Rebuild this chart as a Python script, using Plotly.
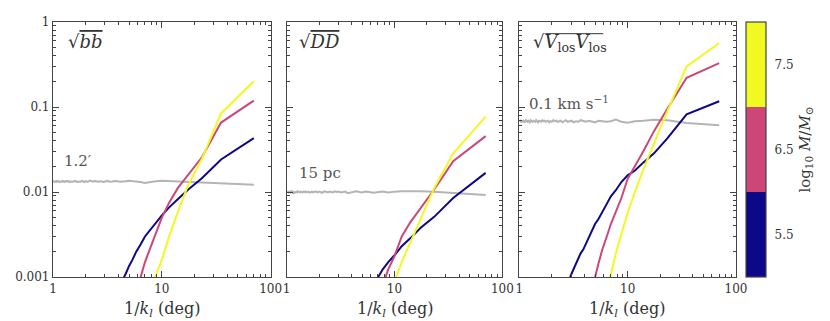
import plotly.graph_objects as go

# 1/k_l (deg) sampling, k_l = n/70
scale_deg = [70.0, 35.0, 23.33, 17.5, 14.0, 11.67, 10.0, 8.75, 7.78, 7.0,
             6.36, 5.83, 5.38, 5.0, 4.67, 4.38, 4.12, 3.89, 3.68, 3.5,
             3.33, 3.18, 3.04, 2.92, 2.8, 2.69, 2.59, 2.5, 2.41, 2.33,
             2.26, 2.19, 2.12, 2.06, 2.0, 1.94, 1.89, 1.84, 1.79, 1.75,
             1.71, 1.67, 1.63, 1.59, 1.56, 1.52, 1.49, 1.46, 1.43, 1.4,
             1.37, 1.35, 1.32, 1.3, 1.27, 1.25, 1.23, 1.21, 1.19, 1.17,
             1.15, 1.13, 1.11, 1.09, 1.08, 1.06, 1.04, 1.03, 1.01, 1.0]

# ---- panel 1: sqrt(bb)
bb_noise = [0.0122, 0.0127, 0.0131, 0.0134, 0.0136, 0.0137, 0.0136, 0.0134, 0.0130, 0.0128,
            0.0131, 0.0133, 0.0134, 0.0136, 0.0134, 0.0133, 0.0132, 0.0134, 0.0135, 0.0133,
            0.0132, 0.0135, 0.0133, 0.0131, 0.0133, 0.0134, 0.0132, 0.0133, 0.0135, 0.0132,
            0.0133, 0.0136, 0.0133, 0.0132, 0.0134, 0.0131, 0.0133, 0.0135, 0.0132, 0.0134,
            0.0133, 0.0131, 0.0134, 0.0133, 0.0135, 0.0132, 0.0134, 0.0133, 0.0131, 0.0134,
            0.0132, 0.0135, 0.0133, 0.0134, 0.0131, 0.0133, 0.0135, 0.0132, 0.0134, 0.0133,
            0.0131, 0.0134, 0.0133, 0.0135, 0.0132, 0.0134, 0.0131, 0.0133, 0.0134, 0.0132]
bb_m55 = [0.043, 0.0241, 0.0145, 0.0107, 0.0082, 0.0066, 0.0053, 0.0043, 0.0035, 0.0030,
          0.0024, 0.0020, 0.0016, 0.00135, 0.0011, 0.00095, 0.0008]
bb_m65 = [0.119, 0.0656, 0.0256, 0.0158, 0.0111, 0.0075, 0.0050, 0.0032, 0.0021, 0.0015,
          0.00098, 0.0007]
bb_m75 = [0.201, 0.084, 0.0245, 0.0122, 0.0058, 0.0030, 0.0016, 0.00102, 0.0006]

# ---- panel 2: sqrt(DD)
dd_noise = [0.0092, 0.0098, 0.0101, 0.0102, 0.0103, 0.0102, 0.0101, 0.0099, 0.0101, 0.0100,
            0.0098, 0.0100, 0.0101, 0.0099, 0.0100, 0.0102, 0.0100, 0.0098, 0.0097, 0.0101,
            0.0100, 0.0099, 0.0101, 0.0100, 0.0102, 0.0099, 0.0100, 0.0101, 0.0099, 0.0100,
            0.0102, 0.0100, 0.0098, 0.0100, 0.0101, 0.0099, 0.0100, 0.0102, 0.0100, 0.0099,
            0.0101, 0.0100, 0.0098, 0.0101, 0.0100, 0.0099, 0.0102, 0.0100, 0.0101, 0.0099,
            0.0100, 0.0101, 0.0099, 0.0100, 0.0102, 0.0099, 0.0101, 0.0100, 0.0098, 0.0100,
            0.0096, 0.0100, 0.0102, 0.0099, 0.0101, 0.0100, 0.0099, 0.0101, 0.0100, 0.0100]
dd_m55 = [0.0168, 0.0085, 0.0051, 0.0038, 0.00285, 0.0023, 0.0018, 0.0015, 0.00123, 0.0010,
          0.0008]
dd_m65 = [0.0454, 0.0231, 0.0107, 0.0065, 0.0044, 0.0030, 0.00176, 0.00123, 0.0008]
dd_m75 = [0.0769, 0.0285, 0.0111, 0.0048, 0.0026, 0.0015, 0.0009]

# ---- panel 3: sqrt(Vlos Vlos)
vv_noise = [0.061, 0.065, 0.070, 0.071, 0.069, 0.068, 0.0655, 0.067, 0.071, 0.068,
            0.067, 0.068, 0.069, 0.066, 0.068, 0.069, 0.067, 0.068, 0.070, 0.067,
            0.068, 0.066, 0.069, 0.068, 0.067, 0.070, 0.068, 0.066, 0.069, 0.068,
            0.067, 0.069, 0.068, 0.070, 0.067, 0.068, 0.066, 0.069, 0.068, 0.067,
            0.069, 0.068, 0.070, 0.067, 0.068, 0.069, 0.066, 0.068, 0.070, 0.067,
            0.068, 0.069, 0.067, 0.068, 0.070, 0.066, 0.068, 0.069, 0.067, 0.068,
            0.070, 0.067, 0.068, 0.066, 0.069, 0.068, 0.067, 0.069, 0.068, 0.067]
vv_m55 = [0.117, 0.082, 0.043, 0.0285, 0.0223, 0.0179, 0.0157, 0.0131, 0.0105, 0.0089,
          0.0071, 0.0057, 0.0048, 0.0042, 0.0035, 0.0029, 0.0025, 0.0021, 0.0019, 0.00166,
          0.00145, 0.00126, 0.0011, 0.00096, 0.0008]
vv_m65 = [0.329, 0.221, 0.096, 0.052, 0.0304, 0.0204, 0.0143, 0.0085, 0.0059, 0.0042,
          0.0029, 0.0021, 0.00144, 0.00102, 0.0007]
vv_m75 = [0.567, 0.301, 0.090, 0.038, 0.0187, 0.010, 0.0057, 0.0032, 0.0019, 0.00107,
          0.0007]

panel_labels = ["√<span style='text-decoration:overline'><i>bb</i></span>",
                "√<span style='text-decoration:overline'><i>DD</i></span>",
                "√<i>V</i><sub>los</sub><i>V</i><sub>los</sub>"]
noise_labels = ["1.2′", "15 pc", "0.1 km s<sup>−1</sup>"]
x_title = "1/<i>k</i><sub><i>l</i></sub> (deg)"
mass_ticks = [5.5, 6.5, 7.5]
ytick_vals = [0.001, 0.01, 0.1, 1]
ytick_text = ["0.001", "0.01", "0.1", "1"]
ytick_minor = [0.002, 0.003, 0.004, 0.005, 0.006, 0.007, 0.008, 0.009,
               0.02, 0.03, 0.04, 0.05, 0.06, 0.07, 0.08, 0.09,
               0.2, 0.3, 0.4, 0.5, 0.6, 0.7, 0.8, 0.9]
xtick_vals = [1, 10, 100]
xtick_text = ["1", "10", "100"]
xtick_minor = [2, 3, 4, 5, 6, 7, 8, 9, 20, 30, 40, 50, 60, 70, 80, 90]

NAVY = "#0d0887"
PINK = "#cc4778"
YELLOW = "#f0f921"
GRAY = "#b4b4b4"
FRAME = "#444444"
TXT = "#333333"
FONT = "DejaVu Serif"

# page body has an 8px margin: figure is laid out in window coords minus 8
OFF = 8
L, T, R, B = 53, 15, 737, 277          # plot area in window pixels
PW, PH = R - L, B - T


def px(X):
    return (X - L) / PW


def py(Y):
    return (B - Y) / PH


panels = [
    (bb_noise, bb_m55, bb_m65, bb_m75),
    (dd_noise, dd_m55, dd_m65, dd_m75),
    (vv_noise, vv_m55, vv_m65, vv_m75),
]

fig = go.Figure()
for i, (noise, m55, m65, m75) in enumerate(panels):
    xa = "x" if i == 0 else f"x{i+1}"
    ya = "y" if i == 0 else f"y{i+1}"
    fig.add_trace(go.Scatter(x=scale_deg, y=noise, mode="lines", xaxis=xa, yaxis=ya,
                             line=dict(color=GRAY, width=2), showlegend=False))
    for vals, col in ((m55, NAVY), (m65, PINK), (m75, YELLOW)):
        fig.add_trace(go.Scatter(x=scale_deg[:len(vals)], y=vals, mode="lines",
                                 xaxis=xa, yaxis=ya, line=dict(color=col, width=2),
                                 showlegend=False))

# colorbar carrier
fig.add_trace(go.Scatter(
    x=[None], y=[None], xaxis="x3", yaxis="y3", mode="markers", showlegend=False,
    marker=dict(color=[5.5], cmin=5, cmax=8, showscale=True,
                colorscale=[[0, NAVY], [1/3, NAVY], [1/3, PINK], [2/3, PINK],
                            [2/3, YELLOW], [1, YELLOW]],
                colorbar=dict(x=px(747), xanchor="left", xpad=0, ypad=0,
                              y=0.5, yanchor="middle", len=1, lenmode="fraction",
                              thickness=20, thicknessmode="pixels",
                              outlinecolor=FRAME, outlinewidth=1.2,
                              tickvals=mass_ticks, ticks="outside", ticklen=6,
                              tickcolor="rgba(0,0,0,0)",
                              tickfont=dict(family=FONT, size=12, color=TXT),
                              title=dict(text="log<sub>10</sub> <i>M</i>/<i>M</i><sub>⊙</sub>",
                                         side="right",
                                         font=dict(family=FONT, size=15, color=TXT))))))

domains = [[px(53), px(271)], [px(287), px(503)], [px(520), px(737)]]
W, H = 830 - 2 * OFF, 321 - OFF
layout = dict(width=W, height=H, plot_bgcolor="white", paper_bgcolor="white",
              margin=dict(l=L - OFF, r=W - (R - OFF), t=T - OFF, b=H - (B - OFF), pad=0),
              showlegend=False, font=dict(family=FONT, color=TXT))
for i in range(3):
    sx = "" if i == 0 else str(i+1)
    layout[f"xaxis{sx}"] = dict(
        domain=domains[i], type="log", range=[0, 2], anchor=f"y{sx}",
        tickvals=xtick_vals, ticktext=xtick_text, ticks="inside", ticklen=6, tickwidth=1,
        tickcolor=FRAME, showline=True, linecolor=FRAME, linewidth=1.2, mirror="allticks",
        showgrid=False, zeroline=False,
        minor=dict(ticks="inside", ticklen=3, tickwidth=1, tickcolor=FRAME, tickmode="array",
                   tickvals=xtick_minor, showgrid=False),
        tickfont=dict(family=FONT, size=12, color=TXT))
    layout[f"yaxis{sx}"] = dict(
        domain=[0, 1], type="log", range=[-3, 0], anchor=f"x{sx}",
        tickvals=ytick_vals, ticktext=ytick_text, showticklabels=(i == 0),
        ticks="inside", ticklen=6, tickwidth=1, tickcolor=FRAME, showline=True,
        linecolor=FRAME, linewidth=1.2, mirror="allticks", showgrid=False, zeroline=False,
        minor=dict(ticks="inside", ticklen=3, tickwidth=1, tickcolor=FRAME, tickmode="array",
                   tickvals=ytick_minor, showgrid=False),
        tickfont=dict(family=FONT, size=12, color=TXT))
fig.update_layout(**layout)

label_x = [66, 297, 532]
label_y = [35, 35, 37]
noise_xy = [(62, 158), (297, 170), (528, 98)]
title_cx = [162, 395, 628]
for i in range(3):
    fig.add_annotation(x=px(label_x[i]), y=py(label_y[i]), xref="paper", yref="paper",
                       text=panel_labels[i], showarrow=False, xanchor="left", yanchor="middle",
                       font=dict(family=FONT, size=18, color=TXT))
    nx, ny = noise_xy[i]
    fig.add_annotation(x=px(nx), y=py(ny), xref="paper", yref="paper",
                       text=noise_labels[i], showarrow=False, xanchor="left", yanchor="middle",
                       font=dict(family=FONT, size=15, color="#555555"))
    fig.add_annotation(x=px(title_cx[i]), y=py(310), xref="paper", yref="paper",
                       text=x_title, showarrow=False, xanchor="center", yanchor="middle",
                       font=dict(family=FONT, size=16, color=TXT))

# vinculum of the third panel's radical (spans the subscripts)
fig.add_shape(type="line", xref="paper", yref="paper", x0=px(546), x1=px(604),
              y0=py(27), y1=py(27), line=dict(color=TXT, width=1))

fig.write_html("out.html")
